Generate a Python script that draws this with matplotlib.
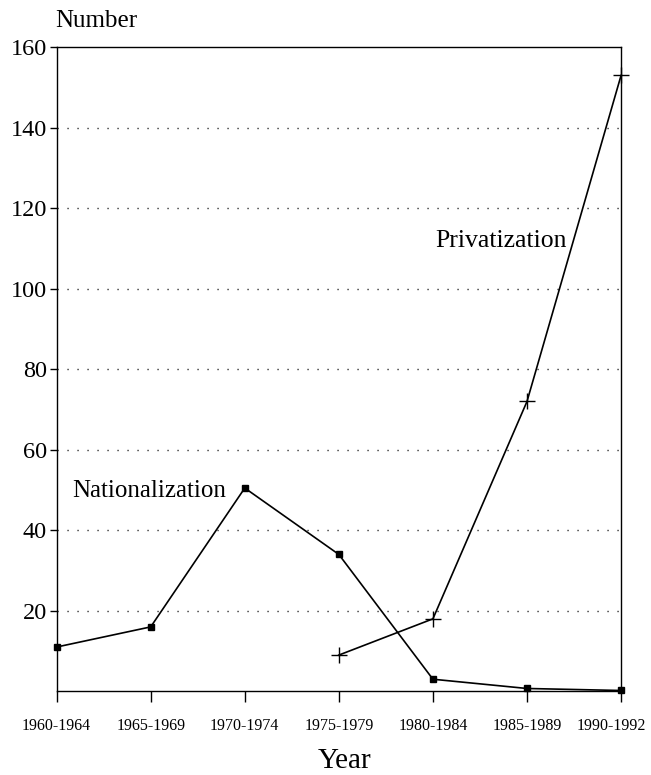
import matplotlib.pyplot as plt
from matplotlib.transforms import ScaledTranslation

# Data
years = ['1960-1964', '1965-1969', '1970-1974', '1975-1979',
         '1980-1984', '1985-1989', '1990-1992']
nationalization = [11, 16, 50.5, 34, 3, 0.7, 0.2]
priv_years = ['1975-1979', '1980-1984', '1985-1989', '1990-1992']
privatization = [9, 18, 72, 153]

plt.rcParams['font.family'] = ['Liberation Serif', 'DejaVu Serif']

fig = plt.figure(figsize=(6.51, 7.75), dpi=100)
ax = fig.add_axes([0.087, 0.108, 0.867, 0.831])

x_all = list(range(len(years)))
x_priv = [years.index(y) for y in priv_years]

ax.plot(x_all, nationalization, color='black', lw=1.2, marker='s',
        markersize=4, clip_on=False, zorder=3)
ax.plot(x_priv, privatization, color='black', lw=1.2, marker='+',
        markersize=12, markeredgewidth=1.0, clip_on=False, zorder=3)

ax.set_xlim(0, 6)
ax.set_ylim(0, 160)
ax.set_yticks([20, 40, 60, 80, 100, 120, 140, 160])
ax.set_xticks(x_all)
ax.set_xticklabels(years, fontsize=11.5)
ax.tick_params(axis='y', labelsize=17.5, length=5, width=1, pad=2)
ax.tick_params(axis='x', length=8, width=1, pad=11, direction='out')

# last label sits a little left of its tick in the original
last = ax.get_xticklabels()[-1]
last.set_transform(last.get_transform() + ScaledTranslation(-10 / 100, 0, fig.dpi_scale_trans))

for v in [20, 40, 60, 80, 100, 120, 140]:
    ax.axhline(v, color='black', lw=1.0, linestyle=(0, (0.8, 6.4)), zorder=1)

for s in ax.spines.values():
    s.set_linewidth(1.0)

ax.text(4.02, 110.5, 'Privatization', fontsize=18.5)
ax.text(0.17, 48.3, 'Nationalization', fontsize=18)

fig.text(0.085, 0.965, 'Number', fontsize=18)
fig.text(0.53, 0.009, 'Year', fontsize=21, ha='center')

plt.savefig('out.png', dpi=100)
